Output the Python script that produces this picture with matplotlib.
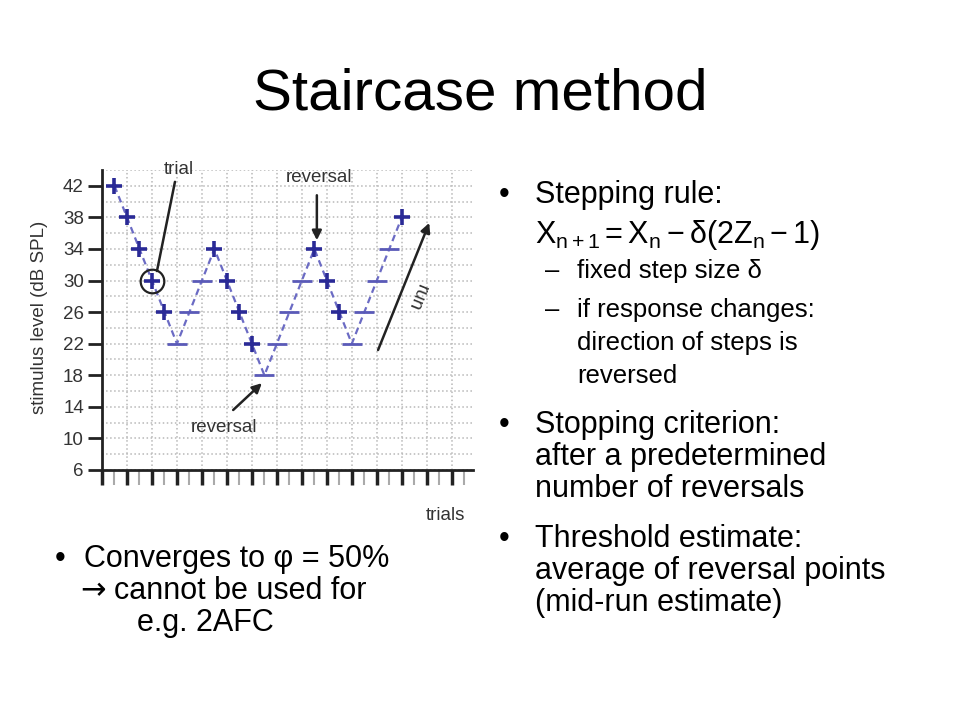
import matplotlib.pyplot as plt
from matplotlib.ticker import MultipleLocator

plt.rcParams['font.family'] = ['Liberation Sans', 'DejaVu Sans']
plt.rcParams['mathtext.fontset'] = 'custom'
plt.rcParams['mathtext.rm'] = 'Liberation Sans'
plt.rcParams['mathtext.it'] = 'Liberation Sans'

# staircase track
trials = list(range(1, 25))
levels = [42, 38, 34, 30, 26, 22, 26, 30, 34, 30, 26, 22,
          18, 22, 26, 30, 34, 30, 26, 22, 26, 30, 34, 38]
responses = list('+++++---++++----+++----+')
y_ticks = [6, 10, 14, 18, 22, 26, 30, 34, 38, 42]
circled_trial = 4

W, H = 960, 720
fig = plt.figure(figsize=(9.6, 7.2), dpi=100)
fig.patch.set_facecolor('white')


def fx(x):
    return x / W


def fy(y):
    return 1 - y / H


ax = fig.add_axes([fx(102), fy(470), 371 / W, 300 / H])
ax.set_xlim(0, 29.7)
ax.set_ylim(6, 44)

ax.xaxis.set_major_locator(MultipleLocator(2))
ax.xaxis.set_minor_locator(MultipleLocator(1))
ax.set_yticks(y_ticks)
ax.yaxis.set_minor_locator(MultipleLocator(2))

ax.tick_params(axis='x', which='major', length=11, width=2.5, color='#222222',
               labelbottom=False, direction='out')
ax.tick_params(axis='x', which='minor', length=11, width=1.5, color='#aaaaaa',
               direction='out')
ax.tick_params(axis='y', which='major', length=10, width=2, color='#222222',
               labelsize=13.5, labelcolor='#333333', pad=3)
ax.tick_params(axis='y', which='minor', length=0)

ax.grid(which='major', axis='x', ls=':', color='#b8b8b8', lw=1.1)
ax.grid(which='both', axis='y', ls=':', color='#b8b8b8', lw=1.1)
ax.set_axisbelow(True)

for s in ['top', 'right']:
    ax.spines[s].set_visible(False)
for s in ['left', 'bottom']:
    ax.spines[s].set_linewidth(2)
    ax.spines[s].set_color('#222222')

ax.plot(trials, levels, ls=(0, (3, 2)), color='#6b6bc4', lw=1.6, zorder=2)
for t, l, r in zip(trials, levels, responses):
    if r == '+':
        ax.plot(t, l, marker='+', ms=12, mew=2.6, color='#2a2a96', zorder=3)
    else:
        ax.plot(t, l, marker='_', ms=15, mew=2, color='#5a5ab8', zorder=3)

# circled trial
i = trials.index(circled_trial)
ax.plot(trials[i], levels[i], 'o', ms=17, mfc='none', mec='#222222', mew=1.6,
        zorder=4)

txt = dict(fontsize=13.5, color='#333333', ha='center', va='center')
arrow = dict(arrowstyle='-|>', lw=1.8, color='#222222', mutation_scale=14,
             shrinkA=0, shrinkB=0)

ax.text(6.16, 44.0, 'trial', clip_on=False, **txt)
ax.annotate('', xy=(4.4, 31.2), xytext=(5.84, 42.5),
            arrowprops=dict(arrowstyle='-', lw=1.8, color='#222222',
                            shrinkA=0, shrinkB=0))

ax.text(17.4, 43.1, 'reversal', clip_on=False, **txt)
ax.annotate('', xy=(17.2, 35.1), xytext=(17.2, 40.8), arrowprops=arrow)

ax.text(9.76, 11.4, 'reversal', **txt)
ax.annotate('', xy=(12.8, 17.0), xytext=(10.5, 13.6), arrowprops=arrow)

ax.annotate('', xy=(26.2, 37.3), xytext=(22.1, 21.2), arrowprops=arrow)
ax.text(25.2, 27.9, 'run', rotation=-112, rotation_mode='anchor', **txt)

fig.text(fx(445), fy(515), 'trials', fontsize=13.5, color='#333333',
         ha='center', va='center')
fig.text(fx(40), fy(317), 'stimulus level (dB SPL)', fontsize=13.5,
         color='#333333', rotation=90, ha='center', va='center')

# slide text
fig.text(0.5, fy(110), 'Staircase method', fontsize=42, ha='center',
         va='baseline')

body = dict(fontsize=22, va='baseline', ha='left')
sub = dict(fontsize=18.5, va='baseline', ha='left')

fig.text(fx(499), fy(203), '•', **body)
fig.text(fx(535), fy(203), 'Stepping rule:', **body)
fig.text(fx(535), fy(243),
         r'$\mathrm{X_{n+1} = X_n - δ(2Z_n - 1)}$', **body)
fig.text(fx(545), fy(278), '–', **sub)
fig.text(fx(577), fy(278), 'fixed step size δ', **sub)
fig.text(fx(545), fy(317), '–', **sub)
fig.text(fx(577), fy(317), 'if response changes:', **sub)
fig.text(fx(577), fy(350), 'direction of steps is', **sub)
fig.text(fx(577), fy(383), 'reversed', **sub)

fig.text(fx(499), fy(433), '•', **body)
fig.text(fx(535), fy(433), 'Stopping criterion:', **body)
fig.text(fx(535), fy(465), 'after a predetermined', **body)
fig.text(fx(535), fy(497), 'number of reversals', **body)

fig.text(fx(499), fy(547), '•', **body)
fig.text(fx(535), fy(547), 'Threshold estimate:', **body)
fig.text(fx(535), fy(579), 'average of reversal points', **body)
fig.text(fx(535), fy(611), '(mid-run estimate)', **body)

fig.text(fx(55), fy(567), '•', **body)
fig.text(fx(84), fy(567), 'Converges to φ = 50%', **body)
fig.text(fx(80), fy(599), '→', fontsize=22, va='baseline', ha='left',
         family=['DejaVu Sans'])
fig.text(fx(114), fy(599), 'cannot be used for', **body)
fig.text(fx(137), fy(631), 'e.g. 2AFC', **body)

fig.savefig('out.png', dpi=100)
